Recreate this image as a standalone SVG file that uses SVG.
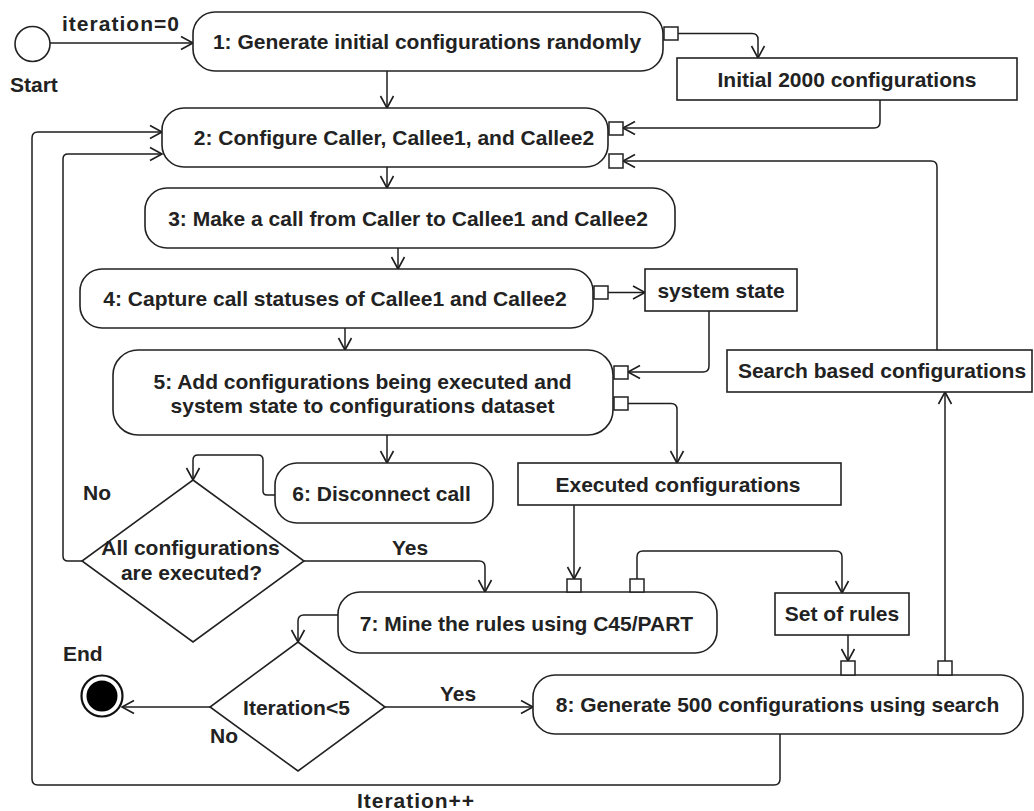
<svg xmlns="http://www.w3.org/2000/svg" width="1034" height="811" viewBox="0 0 1034 811">
  <defs>
    <marker id="open" markerUnits="userSpaceOnUse" markerWidth="16" markerHeight="16" viewBox="-14 -8 16 16" refX="0" refY="0" orient="auto">
      <path d="M -12 -6.5 L 0 0 L -12 6.5" fill="none" stroke="#1e1e1e" stroke-width="1.6"/>
    </marker>
  </defs>
  <style>
    text { font-family: "Liberation Sans", Arial, sans-serif; font-weight: bold; font-size: 21px; fill: #222; }
    .c { text-anchor: middle; }
    .act { fill: #fff; stroke: #222; stroke-width: 1.6; }
    .obj { fill: #fff; stroke: #222; stroke-width: 1.6; }
    .pin { fill: #fff; stroke: #222; stroke-width: 1.5; }
    .edge { fill: none; stroke: #1e1e1e; stroke-width: 1.5; }
    .arr { marker-end: url(#open); }
  </style>
  <rect width="1034" height="811" fill="#fff"/>

  <!-- connectors -->
  <g id="connectors">
    <path class="edge arr" d="M50,43 L193,43"/>
    <path class="edge arr" d="M678,33.5 L752,33.5 Q758,33.5 758,39.5 L758,58"/>
    <path class="edge arr" d="M880,100 L880,122 Q880,128 874,128 L623,128"/>
    <path class="edge arr" d="M937,350 L937,167 Q937,161 931,161 L623,161"/>
    <path class="edge arr" d="M387,71 L387,108"/>
    <path class="edge arr" d="M387,167 L387,188"/>
    <path class="edge arr" d="M398,248 L398,269"/>
    <path class="edge arr" d="M608,292.5 L645,292.5"/>
    <path class="edge arr" d="M709,311 L709,366 Q709,372 703,372 L628,372"/>
    <path class="edge arr" d="M345,328 L345,350"/>
    <path class="edge arr" d="M628,403.5 L671,403.5 Q677,403.5 677,409.5 L677,463"/>
    <path class="edge arr" d="M387,435 L387,463"/>
    <path class="edge arr" d="M275,495 L267,495 Q263,495 263,491 L263,460 Q263,455 258,455 L198,455 Q193,455 193,460 L193,480"/>
    <path class="edge arr" d="M82,561 L68,561 Q63,561 63,556 L63,159 Q63,154 68,154 L162,154"/>
    <path class="edge arr" d="M304,561 L479,561 Q485,561 485,567 L485,592"/>
    <path class="edge arr" d="M574,505 L574,579"/>
    <path class="edge arr" d="M637,579 L637,557 Q637,551 643,551 L836,551 Q842,551 842,557 L842,593"/>
    <path class="edge arr" d="M848,635 L848,661"/>
    <path class="edge arr" d="M945,661 L945,392"/>
    <path class="edge arr" d="M338,615 L304,615 Q298,615 298,621 L298,642"/>
    <path class="edge arr" d="M210,707 L122,707"/>
    <path class="edge arr" d="M385,707 L533,707"/>
    <path class="edge arr" d="M780,734 L780,779 Q780,785 774,785 L38,785 Q32,785 32,779 L32,138 Q32,132 38,132 L162,132"/>
    <text x="62" y="31" textLength="117" lengthAdjust="spacing">iteration=0</text>
    <text x="83" y="500">No</text>
    <text x="392" y="555">Yes</text>
    <text x="440" y="701">Yes</text>
    <text x="210" y="743">No</text>
    <text x="357" y="808" textLength="117" lengthAdjust="spacing">Iteration++</text>
  </g>

  <g id="start">
    <circle cx="32.5" cy="44" r="17.5" fill="#fff" stroke="#222" stroke-width="1.6"/>
    <text x="10" y="92">Start</text>
  </g>

  <g id="act1">
    <rect class="act" x="193" y="12" width="470" height="59" rx="22"/>
    <rect class="pin" x="664" y="27" width="14" height="13"/>
    <text class="c" x="427" y="48.5">1: Generate initial configurations randomly</text>
  </g>

  <g id="obj-initial">
    <rect class="obj" x="677" y="58" width="340" height="42"/>
    <text class="c" x="847" y="87">Initial 2000 configurations</text>
  </g>

  <g id="act2">
    <rect class="act" x="162" y="108" width="446" height="59" rx="22"/>
    <rect class="pin" x="609" y="122" width="14" height="13"/>
    <rect class="pin" x="609" y="154" width="14" height="14"/>
    <text class="c" x="394" y="144.5">2: Configure Caller, Callee1, and Callee2</text>
  </g>

  <g id="act3">
    <rect class="act" x="145" y="188" width="530" height="60" rx="22"/>
    <text class="c" x="408" y="225.5">3: Make a call from Caller to Callee1 and Callee2</text>
  </g>

  <g id="act4">
    <rect class="act" x="80" y="269" width="513" height="59" rx="22"/>
    <rect class="pin" x="594" y="286" width="14" height="13"/>
    <text class="c" x="335" y="305.5">4: Capture call statuses of Callee1 and Callee2</text>
  </g>

  <g id="obj-state">
    <rect class="obj" x="645" y="269" width="152" height="42"/>
    <text class="c" x="721" y="297.5">system state</text>
  </g>

  <g id="obj-search">
    <rect class="obj" x="727" y="350" width="305" height="42"/>
    <text class="c" x="882" y="377.5">Search based configurations</text>
  </g>

  <g id="act5">
    <rect class="act" x="113" y="350" width="500" height="85" rx="25"/>
    <rect class="pin" x="614" y="366" width="14" height="13"/>
    <rect class="pin" x="614" y="397" width="14" height="13"/>
    <text class="c" x="362.5" y="388.5">5: Add configurations being executed and</text>
    <text class="c" x="362.5" y="412.5">system state to configurations dataset</text>
  </g>

  <g id="act6">
    <rect class="act" x="275" y="463" width="218" height="60" rx="22"/>
    <text class="c" x="381.5" y="500.5">6: Disconnect call</text>
  </g>

  <g id="obj-executed">
    <rect class="obj" x="518" y="463" width="323" height="42"/>
    <text class="c" x="678" y="491.5">Executed configurations</text>
  </g>

  <g id="dec1">
    <polygon points="193,480 304,561 193,642 82,561" fill="#fff" stroke="#222" stroke-width="1.6"/>
    <text class="c" x="190.5" y="554.5">All configurations</text>
    <text class="c" x="191.5" y="579.5">are executed?</text>
  </g>

  <g id="act7">
    <rect class="act" x="338" y="592" width="379" height="61" rx="22"/>
    <rect class="pin" x="567" y="579" width="14" height="13"/>
    <rect class="pin" x="630" y="579" width="14" height="13"/>
    <text class="c" x="526.5" y="630.5">7: Mine the rules using C45/PART</text>
  </g>

  <g id="obj-rules">
    <rect class="obj" x="775" y="593" width="134" height="42"/>
    <text class="c" x="842" y="620.5">Set of rules</text>
  </g>

  <g id="dec2">
    <polygon points="298,642 385,707 298,771 210,707" fill="#fff" stroke="#222" stroke-width="1.6"/>
    <text class="c" x="296.5" y="714.5">Iteration&lt;5</text>
  </g>

  <g id="act8">
    <rect class="act" x="533" y="675" width="490" height="59" rx="22"/>
    <rect class="pin" x="841" y="661" width="14" height="14"/>
    <rect class="pin" x="938" y="661" width="14" height="14"/>
    <text class="c" x="777.5" y="711.5">8: Generate 500 configurations using search</text>
  </g>

  <g id="end">
    <circle cx="102" cy="696" r="20.5" fill="#fff" stroke="#111" stroke-width="2.2"/>
    <circle cx="102" cy="696" r="15.5" fill="#000"/>
    <text x="63" y="660.5">End</text>
  </g>
</svg>
